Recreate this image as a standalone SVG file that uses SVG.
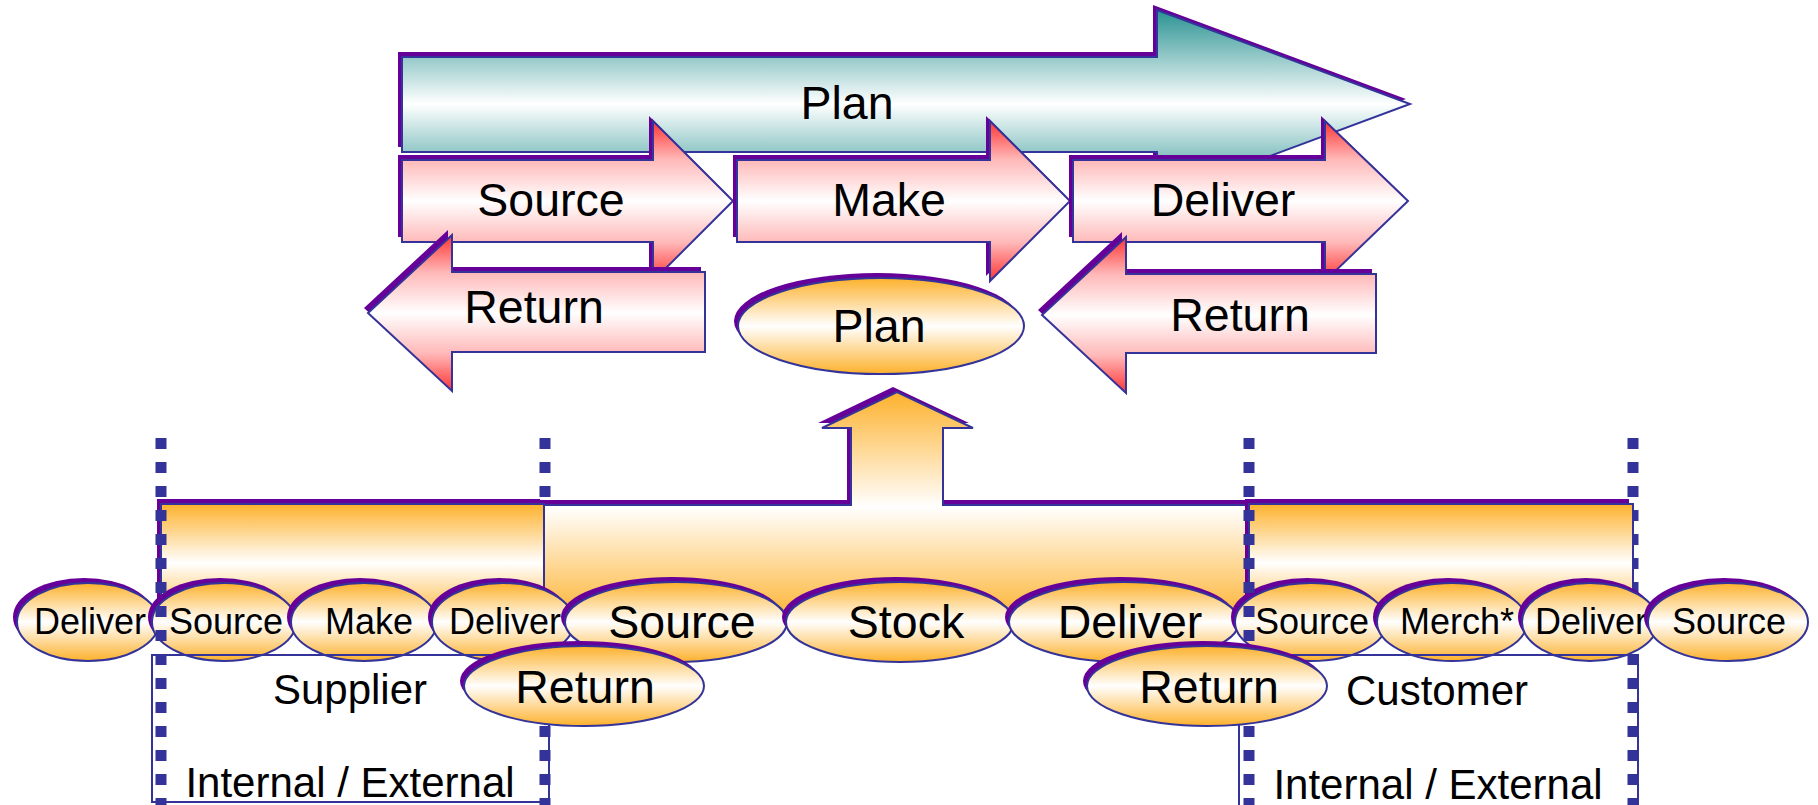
<svg xmlns="http://www.w3.org/2000/svg" width="1818" height="805" viewBox="0 0 1818 805">
  <defs>
    <linearGradient id="gTeal" x1="0" y1="0" x2="0" y2="1">
      <stop offset="0" stop-color="#2A9292"/>
      <stop offset="0.5" stop-color="#FFFFFF"/>
      <stop offset="1" stop-color="#2A9292"/>
    </linearGradient>
    <linearGradient id="gRed" x1="0" y1="0" x2="0" y2="1">
      <stop offset="0" stop-color="#FF3333"/>
      <stop offset="0.24" stop-color="#FFB8B8"/>
      <stop offset="0.5" stop-color="#FFFFFF"/>
      <stop offset="0.76" stop-color="#FFB8B8"/>
      <stop offset="1" stop-color="#FF3333"/>
    </linearGradient>
    <linearGradient id="gOrange" x1="0" y1="0" x2="0" y2="1">
      <stop offset="0" stop-color="#FDB12C"/>
      <stop offset="0.5" stop-color="#FFFFFF"/>
      <stop offset="1" stop-color="#FDB12C"/>
    </linearGradient>
    <linearGradient id="gOrangeUp" x1="0" y1="0" x2="0" y2="1">
      <stop offset="0" stop-color="#FDB12C"/>
      <stop offset="0.5" stop-color="#FFFFFF"/>
      <stop offset="1" stop-color="#FDB12C"/>
    </linearGradient>
    <style>
      .sh{fill:#660099}
      .ln{stroke:#333399;stroke-width:2}
      .red{fill:url(#gRed)}
      .org{fill:url(#gOrange)}
      .t{font-family:"Liberation Sans",Arial,sans-serif;fill:#000;text-anchor:middle}
      .big{font-size:46.5px}
      .sm{font-size:36px}
      .lbl{font-size:42px}
      .dots{fill:none;stroke:#333399;stroke-width:11;stroke-dasharray:11 13}
      .box{fill:none;stroke:#333399;stroke-width:2}
    </style>
    <path id="pPlanArrow" d="M402,57 H1157 V10 L1410,104 L1157,198 V152 H402 Z"/>
    <path id="pSource" d="M402,160 H653 V121 L733,201 L653,281 V242 H402 Z"/>
    <path id="pMake" d="M737,160 H990 V121 L1070,201 L990,281 V242 H737 Z"/>
    <path id="pDeliver" d="M1073,160 H1325 V121 L1408,201 L1325,281 V242 H1073 Z"/>
    <path id="pReturnL" d="M705,272 H452 V235 L368,313 L452,391 V352 H705 Z"/>
    <path id="pReturnR" d="M1376,274 H1126 V237 L1042,315 L1126,393 V353 H1376 Z"/>
    <path id="pUp" d="M540,505 H851 V428 H822 L897,392 L973,428 H943 V505 H1252 V622 H540 Z"/>
  </defs>

  <!-- outer guide lines that sit behind the orange bands -->
  <g id="guides-back">
    <line class="dots" x1="545" y1="438" x2="545" y2="805"/>
    <line class="dots" x1="1633" y1="438" x2="1633" y2="805"/>
  </g>

  <!-- planning arrow across the top -->
  <g id="plan-arrow">
    <use href="#pPlanArrow" class="sh" transform="translate(-4,-5)"/>
    <use href="#pPlanArrow" class="ln" fill="url(#gTeal)"/>
    <text class="t big" x="847" y="119">Plan</text>
  </g>

  <g id="source-arrow">
    <use href="#pSource" class="sh" transform="translate(-4,-5)"/>
    <use href="#pSource" class="ln red"/>
    <text class="t big" x="551" y="216">Source</text>
  </g>

  <g id="make-arrow">
    <use href="#pMake" class="sh" transform="translate(-4,-5)"/>
    <use href="#pMake" class="ln red"/>
    <text class="t big" x="889" y="216">Make</text>
  </g>

  <g id="deliver-arrow">
    <use href="#pDeliver" class="sh" transform="translate(-4,-5)"/>
    <use href="#pDeliver" class="ln red"/>
    <text class="t big" x="1223" y="216">Deliver</text>
  </g>

  <g id="return-arrow-left">
    <use href="#pReturnL" class="sh" transform="translate(-4,-5)"/>
    <use href="#pReturnL" class="ln red"/>
    <text class="t big" x="534" y="323">Return</text>
  </g>

  <g id="return-arrow-right">
    <use href="#pReturnR" class="sh" transform="translate(-4,-5)"/>
    <use href="#pReturnR" class="ln red"/>
    <text class="t big" x="1240" y="331">Return</text>
  </g>

  <g id="plan-ellipse">
    <ellipse class="sh" cx="877" cy="321" rx="143" ry="48"/>
    <ellipse class="ln org" cx="881" cy="326" rx="143" ry="48"/>
    <text class="t big" x="879" y="342">Plan</text>
  </g>

  <!-- orange bands: central band with upward arrow, supplier and customer bands -->
  <g id="internal-band">
    <use href="#pUp" class="sh" transform="translate(-4,-5)"/>
    <use href="#pUp" class="ln" fill="url(#gOrangeUp)"/>
  </g>
  <g id="supplier-band">
    <rect class="sh" x="157" y="499" width="383" height="118"/>
    <rect class="ln org" x="161" y="504" width="383" height="118"/>
  </g>
  <g id="customer-band">
    <rect class="sh" x="1245" y="499" width="384" height="118"/>
    <rect class="ln org" x="1249" y="504" width="384" height="118"/>
  </g>

  <!-- process ellipses along the chain -->
  <g id="e-deliver-1">
    <ellipse class="sh" cx="84" cy="617" rx="71" ry="39"/>
    <ellipse class="ln org" cx="88" cy="622" rx="71" ry="39"/>
    <text class="t sm" x="90" y="634">Deliver</text>
  </g>
  <g id="e-source-1">
    <ellipse class="sh" cx="220" cy="617" rx="72" ry="39"/>
    <ellipse class="ln org" cx="224" cy="622" rx="72" ry="39"/>
    <text class="t sm" x="226" y="634">Source</text>
  </g>
  <g id="e-make">
    <ellipse class="sh" cx="360" cy="617" rx="73" ry="39"/>
    <ellipse class="ln org" cx="364" cy="622" rx="73" ry="39"/>
    <text class="t sm" x="369" y="634">Make</text>
  </g>
  <g id="e-deliver-2">
    <ellipse class="sh" cx="499" cy="617" rx="71" ry="39"/>
    <ellipse class="ln org" cx="503" cy="622" rx="71" ry="39"/>
    <text class="t sm" x="505" y="634">Deliver</text>
  </g>
  <g id="e-source-2">
    <ellipse class="sh" cx="672" cy="617" rx="111" ry="40"/>
    <ellipse class="ln org" cx="676" cy="622" rx="111" ry="40"/>
    <text class="t big" x="682" y="638">Source</text>
  </g>
  <g id="e-stock">
    <ellipse class="sh" cx="896" cy="617" rx="114" ry="40"/>
    <ellipse class="ln org" cx="900" cy="622" rx="114" ry="40"/>
    <text class="t big" x="906" y="638">Stock</text>
  </g>
  <g id="e-deliver-3">
    <ellipse class="sh" cx="1120" cy="617" rx="115" ry="40"/>
    <ellipse class="ln org" cx="1124" cy="622" rx="115" ry="40"/>
    <text class="t big" x="1130" y="638">Deliver</text>
  </g>
  <g id="e-source-3">
    <ellipse class="sh" cx="1307" cy="617" rx="76" ry="39"/>
    <ellipse class="ln org" cx="1311" cy="622" rx="76" ry="39"/>
    <text class="t sm" x="1312" y="634">Source</text>
  </g>
  <g id="e-merch">
    <ellipse class="sh" cx="1448" cy="617" rx="75" ry="39"/>
    <ellipse class="ln org" cx="1452" cy="622" rx="75" ry="39"/>
    <text class="t sm" x="1457" y="634">Merch*</text>
  </g>
  <g id="e-deliver-4">
    <ellipse class="sh" cx="1586" cy="617" rx="68" ry="39"/>
    <ellipse class="ln org" cx="1590" cy="622" rx="68" ry="39"/>
    <text class="t sm" x="1591" y="634">Deliver</text>
  </g>
  <g id="e-source-4">
    <ellipse class="sh" cx="1724" cy="617" rx="80" ry="39"/>
    <ellipse class="ln org" cx="1728" cy="622" rx="80" ry="39"/>
    <text class="t sm" x="1729" y="634">Source</text>
  </g>

  <!-- partner boxes -->
  <g id="supplier-box">
    <rect class="box" x="152" y="655" width="397" height="147"/>
    <text class="t lbl" x="350" y="704">Supplier</text>
    <text class="t lbl" x="350" y="797">Internal / External</text>
  </g>
  <g id="customer-box">
    <rect class="box" x="1239" y="655" width="399" height="160"/>
    <text class="t lbl" x="1437" y="705">Customer</text>
    <text class="t lbl" x="1438" y="799">Internal / External</text>
  </g>

  <!-- inner guide lines drawn over the bands -->
  <g id="guides-front">
    <line class="dots" x1="161" y1="438" x2="161" y2="805"/>
    <line class="dots" x1="1249" y1="438" x2="1249" y2="805"/>
  </g>

  <g id="e-return-1">
    <ellipse class="sh" cx="580" cy="681" rx="120" ry="40"/>
    <ellipse class="ln org" cx="584" cy="686" rx="120" ry="40"/>
    <text class="t big" x="585" y="703">Return</text>
  </g>
  <g id="e-return-2">
    <ellipse class="sh" cx="1203" cy="681" rx="120" ry="40"/>
    <ellipse class="ln org" cx="1207" cy="686" rx="120" ry="40"/>
    <text class="t big" x="1209" y="703">Return</text>
  </g>
</svg>
